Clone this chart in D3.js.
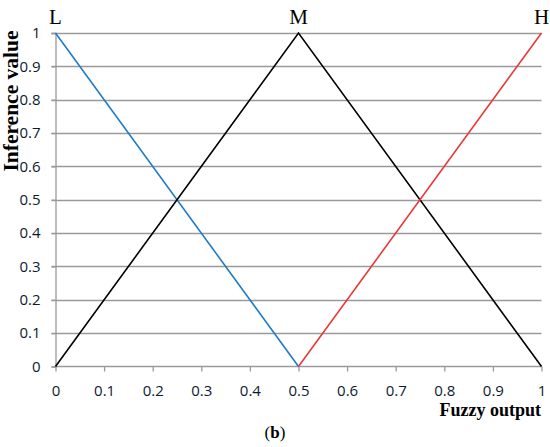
<!DOCTYPE html>
<html><head><meta charset="utf-8">
<script src="https://cdn.jsdelivr.net/npm/d3@7"></script>
<style>body{margin:0;background:#fff}</style>
</head><body>
<script>
const xTicks = [0,0.1,0.2,0.3,0.4,0.5,0.6,0.7,0.8,0.9,1];
const yTicks = [0,0.1,0.2,0.3,0.4,0.5,0.6,0.7,0.8,0.9,1];
const seriesL = [[0,1],[0.5,0]];
const seriesM = [[0,0],[0.5,1],[1,0]];
const seriesH = [[0.5,0],[1,1]];
const labels = [{t:"L",x:0},{t:"M",x:0.5},{t:"H",x:1}];

const W=550,H=447;
const svg=d3.select("body").append("svg").attr("width",W).attr("height",H);
const x=d3.scaleLinear().domain([0,1]).range([55.5,541.5]);
const y=d3.scaleLinear().domain([0,1]).range([366.5,33]);
const grid="#9a9a9a";

// gridlines
svg.append("g").selectAll("line").data(yTicks.filter(d=>d>0)).join("line")
  .attr("x1",x(0)-4).attr("x2",x(1)).attr("y1",d=>Math.round(y(d))+0.5).attr("y2",d=>Math.round(y(d))+0.5)
  .attr("stroke",grid).attr("stroke-width",1.3);

// y axis
const ya=svg.append("g").attr("transform",`translate(${x(0)},0)`)
  .call(d3.axisLeft(y).tickValues(yTicks).tickFormat(d3.format("")).tickSize(4).tickPadding(11));
ya.select(".domain").attr("stroke",grid).attr("stroke-width",1.3);
ya.selectAll(".tick line").attr("stroke",grid).attr("stroke-width",1.3);
ya.selectAll("text").attr("font-family","Open Sans, sans-serif").style("font-size","15px").attr("fill","#0d1a2e");

// x axis
const xa=svg.append("g").attr("transform",`translate(0,${y(0)})`)
  .call(d3.axisBottom(x).tickValues(xTicks).tickFormat(d3.format("")).tickSize(5).tickPadding(14));
xa.select(".domain").attr("stroke",grid).attr("stroke-width",1.3).attr("d",`M${x(0)},0H${x(1)}`);
xa.selectAll(".tick line").attr("stroke",grid).attr("stroke-width",1.3);
xa.selectAll("text").attr("font-family","Open Sans, sans-serif").style("font-size","15px").attr("fill","#0d1a2e");

const line=d3.line().x(d=>x(d[0])).y(d=>y(d[1]));
svg.append("path").datum(seriesL).attr("d",line).attr("fill","none").attr("stroke","#1f7bc8").attr("stroke-width",1.6);
svg.append("path").datum(seriesM).attr("d",line).attr("fill","none").attr("stroke","#000").attr("stroke-width",1.6);
svg.append("path").datum(seriesH).attr("d",line).attr("fill","none").attr("stroke","#e8383a").attr("stroke-width",1.6);

svg.append("g").selectAll("text").data(labels).join("text")
  .attr("x",d=>x(d.x)).attr("y",24).attr("text-anchor","middle")
  .attr("font-family","Liberation Serif, serif").attr("font-size",21).attr("fill","#000").text(d=>d.t);

svg.append("text").attr("transform","translate(18,101) rotate(-90)").attr("text-anchor","middle")
  .attr("font-family","Liberation Serif, serif").attr("font-weight","bold").attr("font-size",21.5).text("Inference value");
svg.append("text").attr("x",541).attr("y",416).attr("text-anchor","end")
  .attr("font-family","Liberation Serif, serif").attr("font-weight","bold").attr("font-size",18).text("Fuzzy output");
const b=svg.append("text").attr("x",275).attr("y",438).attr("text-anchor","middle")
  .attr("font-family","Liberation Serif, serif").attr("font-size",17);
b.append("tspan").text("(");
b.append("tspan").attr("font-weight","bold").text("b");
b.append("tspan").text(")");
</script>
</body></html>
